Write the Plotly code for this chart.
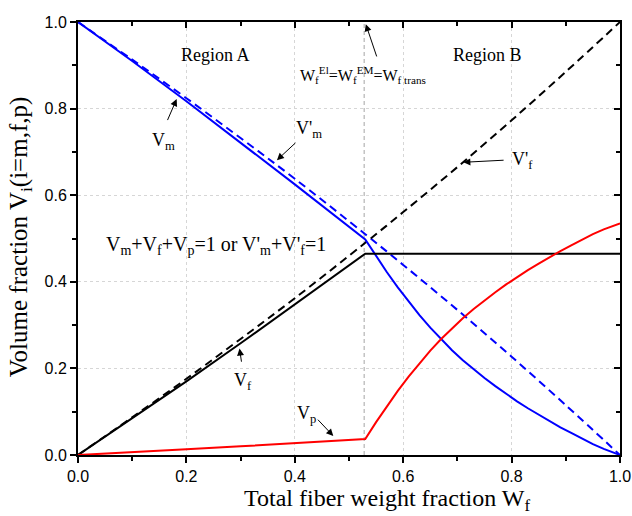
import plotly.graph_objects as go

# ---- data ----
wf_A = [0.0, 0.1, 0.2, 0.3, 0.4, 0.53]
vm_A = [1.0, 0.910, 0.817, 0.722, 0.625, 0.498]
vf_A = [0.0, 0.084, 0.170, 0.258, 0.348, 0.465]
vp_A = [0.0, 0.006, 0.013, 0.020, 0.027, 0.037]

wf_B = [0.53, 0.55, 0.57, 0.59, 0.61, 0.63, 0.65, 0.67, 0.69, 0.71, 0.73, 0.75, 0.77,
        0.79, 0.81, 0.83, 0.85, 0.87, 0.89, 0.91, 0.93, 0.95, 0.97, 0.99, 1.0]
vm_B = [0.498, 0.459, 0.422, 0.387, 0.354, 0.323, 0.294, 0.267, 0.242, 0.219, 0.198, 0.178, 0.159,
        0.141, 0.124, 0.108, 0.093, 0.078, 0.064, 0.051, 0.038, 0.025, 0.014, 0.004, 0.0]
vf_B = [0.465] * len(wf_B)
vp_B = [0.037, 0.076, 0.113, 0.148, 0.181, 0.212, 0.241, 0.268, 0.293, 0.316, 0.337, 0.357, 0.376,
        0.394, 0.411, 0.427, 0.442, 0.457, 0.471, 0.484, 0.497, 0.510, 0.521, 0.531, 0.535]

wf_p = [0.0, 0.1, 0.2, 0.3, 0.4, 0.53, 0.6, 0.7, 0.8, 0.9, 1.0]
vf_prime = [0.0, 0.087, 0.176, 0.268, 0.362, 0.490, 0.561, 0.665, 0.773, 0.885, 1.0]
vm_prime = [1.0, 0.913, 0.824, 0.732, 0.638, 0.510, 0.439, 0.335, 0.227, 0.115, 0.0]

w_trans = 0.528

wf = wf_A + wf_B[1:]
vm = vm_A + vm_B[1:]
vf = vf_A + vf_B[1:]
vp = vp_A + vp_B[1:]

SERIF = "Liberation Serif"
SANS = "Liberation Sans"

fig = go.Figure()
fig.add_trace(go.Scatter(x=[w_trans, w_trans], y=[0, 1], mode="lines",
                         line=dict(color="#b4b4b4", width=1.2, dash="4px,3px"), hoverinfo="skip"))
fig.add_trace(go.Scatter(x=wf_p, y=vm_prime, mode="lines", line_shape="spline",
                         line=dict(color="#0000ff", width=2, dash="8px,5px")))
fig.add_trace(go.Scatter(x=wf_p, y=vf_prime, mode="lines", line_shape="spline",
                         line=dict(color="#000000", width=2, dash="8px,5px")))
fig.add_trace(go.Scatter(x=wf, y=vm, mode="lines", line=dict(color="#0000ff", width=2)))
fig.add_trace(go.Scatter(x=wf, y=vf, mode="lines", line=dict(color="#000000", width=2)))
fig.add_trace(go.Scatter(x=wf, y=vp, mode="lines", line=dict(color="#ff0000", width=2)))
# dummy trace for mirrored (top/right) axes
fig.add_trace(go.Scatter(x=[0.5], y=[0.5], xaxis="x2", yaxis="y2", mode="markers",
                         marker=dict(opacity=0), hoverinfo="skip"))


def arrow(tip, tail):
    fig.add_annotation(x=tip[0], y=tip[1], ax=tail[0], ay=tail[1], axref="x", ayref="y",
                       xref="x", yref="y", text="", showarrow=True,
                       arrowhead=2, arrowsize=1.4, arrowwidth=1, arrowcolor="black")


def label(x, y, t, size=18):
    fig.add_annotation(x=x, y=y, xref="x", yref="y", text=t, showarrow=False,
                       font=dict(family=SERIF, size=size, color="black"))


label(0.253, 0.924, "Region A", 18)
label(0.755, 0.924, "Region B", 18)
label(0.526, 0.878, "W<sub>f</sub><sup>El</sup>=W<sub>f</sub><sup>EM</sup>=W<sub>f trans</sub>", 16)
arrow((0.531, 0.995), (0.552, 0.917))

label(0.157, 0.723, "V<sub>m</sub>")
arrow((0.182, 0.822), (0.164, 0.770))

label(0.426, 0.751, "V'<sub>m</sub>")
arrow((0.367, 0.681), (0.404, 0.724))

label(0.82, 0.681, "V'<sub>f</sub>")
arrow((0.711, 0.676), (0.788, 0.681))

label(0.305, 0.169, "V<sub>f</sub>")
arrow((0.298, 0.246), (0.302, 0.212))

label(0.422, 0.094, "V<sub>p</sub>")
arrow((0.471, 0.044), (0.44, 0.085))

label(0.255, 0.483, "V<sub>m</sub>+V<sub>f</sub>+V<sub>p</sub>=1 or V'<sub>m</sub>+V'<sub>f</sub>=1", 20)

# axis titles
fig.add_annotation(x=0.570, y=-0.104, xref="paper", yref="paper", showarrow=False,
                   text="Total fiber weight fraction W<sub>f</sub>", yanchor="middle",
                   font=dict(family=SERIF, size=24, color="black"))
fig.add_annotation(x=-0.107, y=0.503, xref="paper", yref="paper", showarrow=False,
                   text="Volume fraction V<sub>i</sub>(i=m,f,p)", textangle=-90,
                   xanchor="center", yanchor="middle",
                   font=dict(family=SERIF, size=25, color="black"))

axis_common = dict(range=[0, 1], showline=True, linewidth=2, linecolor="black",
                   zeroline=False, ticklen=6, tickwidth=1.5, tickcolor="black",
                   automargin=False)

fig.update_layout(
    width=632, height=516,
    margin=dict(l=78, r=12, t=22, b=61),
    plot_bgcolor="white", paper_bgcolor="white",
    showlegend=False,
    xaxis=dict(**axis_common, ticks="outside", dtick=0.2, tick0=0, tickformat=".1f",
               showgrid=True, gridcolor="#d6d6d6", gridwidth=1, griddash="dot",
               minor=dict(dtick=0.1, ticks="outside", ticklen=4, tickcolor="black", showgrid=False),
               tickfont=dict(family=SANS, size=16, color="black")),
    yaxis=dict(**axis_common, ticks="outside", dtick=0.2, tick0=0, tickformat=".1f",
               showgrid=True, gridcolor="#d6d6d6", gridwidth=1, griddash="dot",
               minor=dict(dtick=0.1, ticks="outside", ticklen=4, tickcolor="black", showgrid=False),
               tickfont=dict(family=SANS, size=16, color="black")),
    xaxis2=dict(**axis_common, overlaying="x", side="top", anchor="y2", ticks="inside",
                dtick=0.2, tick0=0, showticklabels=False, showgrid=False,
                minor=dict(dtick=0.1, ticks="inside", ticklen=4, tickcolor="black")),
    yaxis2=dict(**axis_common, overlaying="y", side="right", anchor="x2", ticks="inside",
                dtick=0.2, tick0=0, showticklabels=False, showgrid=False,
                minor=dict(dtick=0.1, ticks="inside", ticklen=4, tickcolor="black")),
)

fig.write_html("out.html")
